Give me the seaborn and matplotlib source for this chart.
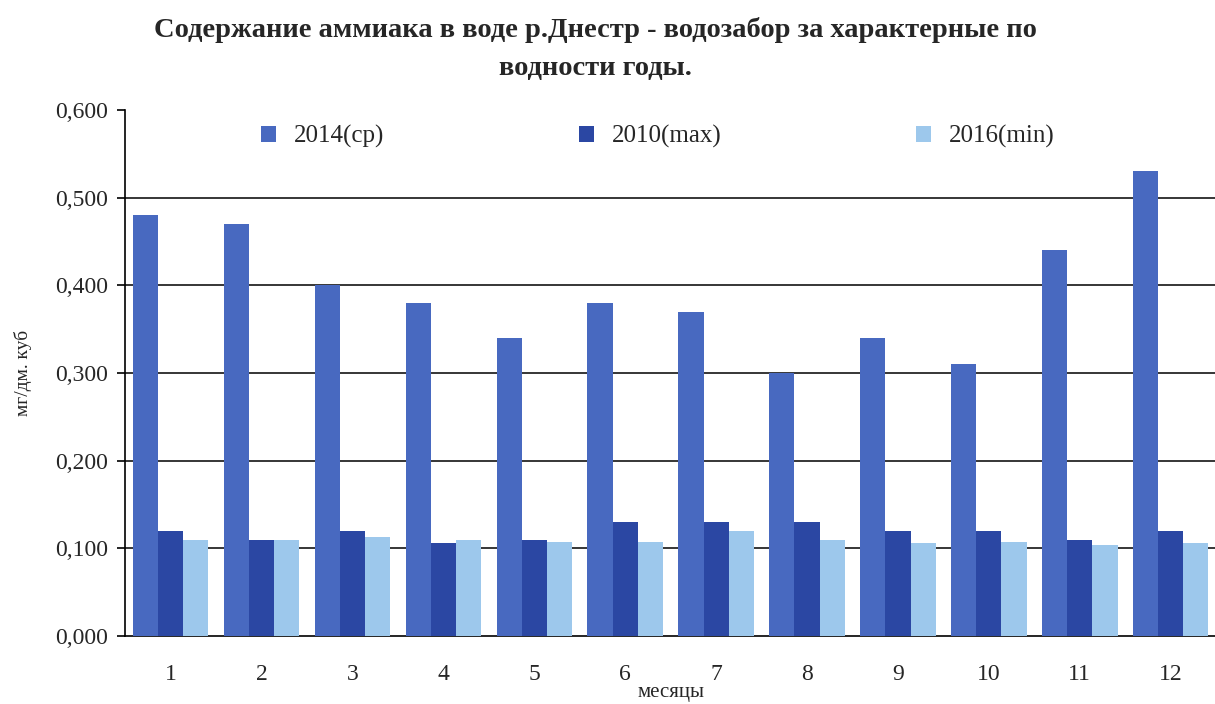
import numpy as np
import pandas as pd
import matplotlib
matplotlib.use('Agg')
import matplotlib.pyplot as plt
from matplotlib.ticker import FuncFormatter, FixedLocator
import seaborn as sns

sns.set_theme(style='white')
plt.rcParams['font.family'] = ['Liberation Serif', 'DejaVu Serif']

months = [str(m) for m in range(1, 13)]
series = ['2014(ср)', '2010(max)', '2016(min)']
v2014 = [0.48, 0.47, 0.40, 0.38, 0.34, 0.38, 0.37, 0.30, 0.34, 0.31, 0.44, 0.53]
v2010 = [0.12, 0.11, 0.12, 0.106, 0.11, 0.13, 0.13, 0.13, 0.12, 0.12, 0.11, 0.12]
v2016 = [0.11, 0.11, 0.113, 0.11, 0.107, 0.107, 0.12, 0.11, 0.106, 0.107, 0.104, 0.106]
colors = ['#4869C0', '#2B47A3', '#9DC8EC']

df = pd.DataFrame({
    'month': months * 3,
    'series': np.repeat(series, len(months)),
    'value': v2014 + v2010 + v2016,
})

fig = plt.figure(figsize=(12.15, 7.04), dpi=100)
ax = fig.add_axes([0.103, 0.0966, 0.898, 0.7472])

sns.barplot(data=df, x='month', y='value', hue='series', hue_order=series,
            palette=colors, width=0.83, saturation=1, linewidth=0, ax=ax, zorder=3)

ax.set_xlim(-0.5, 11.5)
ax.set_ylim(0, 0.6)
yticks = np.arange(0, 0.61, 0.1)
ax.set_yticks(yticks)
ax.yaxis.set_major_formatter(FuncFormatter(lambda v, p: f'{v:.3f}'.replace('.', ',')))
for t in yticks[1:-1]:
    ax.axhline(t, color='black', lw=1.1, zorder=1)

ax.xaxis.set_minor_locator(FixedLocator(np.arange(-0.5, 12, 1)))
ax.tick_params(axis='x', which='major', length=0, labelsize=17, pad=20)
ax.tick_params(axis='x', which='minor', length=7, width=1.2, color='black', direction='out')
ax.tick_params(axis='y', length=6, width=1.2, color='black', direction='out',
               labelsize=17, pad=6, left=True)

for s in ['top', 'right']:
    ax.spines[s].set_visible(False)
for s in ['left', 'bottom']:
    ax.spines[s].set_color('black')
    ax.spines[s].set_linewidth(1.2)

ax.set_xlabel('месяцы', fontsize=15, labelpad=-1)
ax.set_ylabel('мг/дм. куб', fontsize=14, labelpad=17)

ax.legend(ncol=3, loc='center left', bbox_to_anchor=(0.104, 0.95), frameon=False,
          fontsize=18, handlelength=0.6, handleheight=0.6, handletextpad=0.7,
          columnspacing=7.8)

fig.text(0.49, 0.957, 'Содержание аммиака в воде р.Днестр - водозабор за характерные по',
         ha='center', va='center', fontsize=20.5, fontweight='bold')
fig.text(0.49, 0.903, 'водности годы.', ha='center', va='center',
         fontsize=20.5, fontweight='bold')

fig.savefig('out.png', dpi=100)
